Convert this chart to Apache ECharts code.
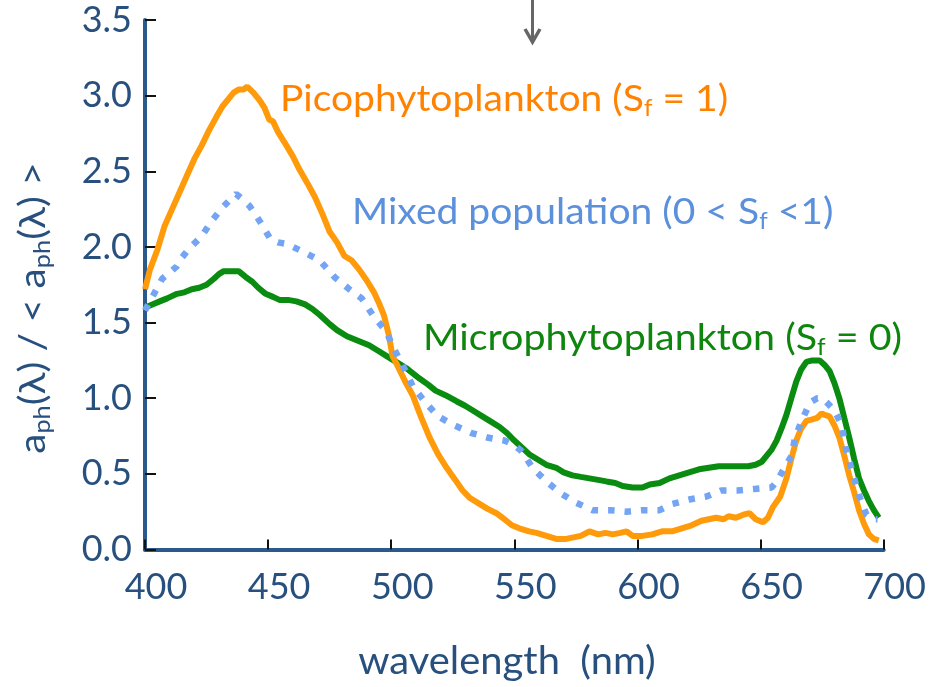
<!DOCTYPE html>
<html><head><meta charset="utf-8">
<script src="https://cdn.jsdelivr.net/npm/echarts@6/dist/echarts.min.js"></script>
<style>html,body{margin:0;padding:0;background:#fff}#c{width:929px;height:687px}</style>
</head><body><div id="c"></div>
<script>
// ---- data ----
const xTicks = [400, 450, 500, 550, 600, 650, 700];
const yTicks = [0.0, 0.5, 1.0, 1.5, 2.0, 2.5, 3.0, 3.5];

const picoWl = [400,402,405,408,411,414,417,420,423,426,429,431.5,434,436,438,440,441.5,444,446.5,448.5,450.5,452,454,456.7,460,462.8,466,469,472,475,478,481,484,487,490,493,495,497,499,500.5,503,506,508.7,512,515.6,519,522.5,526,529,532,536,539,542.7,546,549,552,556,559,563,567,571,574,577,580.5,584,587,590,593,595.6,598,602,606,610,614,618,622,626,629,632,635,637,640,643,645.5,648,651,653,655,658,660.5,662.5,664.5,666.5,668.6,671,673,674.8,676,678,680,682,684,686,688,690,692,694,696,698];
const picoVal = [1.72,1.85,1.98,2.14,2.25,2.36,2.47,2.58,2.67,2.77,2.86,2.93,2.98,3.02,3.04,3.04,3.06,3.02,2.97,2.92,2.84,2.83,2.76,2.69,2.60,2.51,2.42,2.33,2.22,2.10,2.03,1.94,1.91,1.85,1.78,1.70,1.63,1.55,1.42,1.28,1.20,1.10,1.02,0.88,0.74,0.63,0.54,0.46,0.39,0.34,0.30,0.27,0.24,0.20,0.16,0.14,0.12,0.11,0.09,0.07,0.07,0.08,0.09,0.12,0.10,0.11,0.10,0.11,0.12,0.09,0.09,0.10,0.12,0.12,0.14,0.16,0.19,0.20,0.21,0.20,0.22,0.21,0.23,0.24,0.20,0.18,0.21,0.28,0.35,0.47,0.60,0.72,0.80,0.85,0.86,0.87,0.90,0.89,0.88,0.82,0.74,0.62,0.49,0.38,0.26,0.17,0.10,0.07,0.06];

const mixedWl = [400,403,407,410,412.8,415,418,420.5,423,427,432,435,437,440,442.5,445,447,451,454,457.5,464,471,477,483,488,492.5,498,501,504.6,508.7,513.5,519,525.7,532.6,539,546,550,553,557.4,563,569,575,581.8,588.7,595.6,602,609,614,621,628,634,640.6,647.5,654.5,657,659,662.6,664,666.7,670,673,675,677,680,683,684.5,686.5,688.4,690.4,693,695.5,697.5];
const mixedVal = [1.58,1.67,1.79,1.83,1.87,1.93,1.99,2.03,2.07,2.17,2.27,2.32,2.35,2.31,2.27,2.21,2.16,2.05,2.03,2.02,1.97,1.91,1.80,1.72,1.66,1.55,1.44,1.33,1.22,1.08,0.98,0.88,0.82,0.77,0.74,0.72,0.69,0.65,0.54,0.45,0.37,0.31,0.26,0.26,0.25,0.26,0.26,0.30,0.33,0.35,0.39,0.39,0.40,0.41,0.46,0.52,0.62,0.74,0.85,0.97,1.00,1.00,0.97,0.92,0.82,0.68,0.56,0.45,0.34,0.23,0.20,0.20];

const microWl = [400,403,406,409,413,416,419,422,425,428,430,432,434,436,438,441,443.6,446,449,452,454.6,458,461.5,465,468,471,475,478,482,485,488,491,495,498,502,506,511.5,515,518,522,526.5,530,533,537,540,544,547,550,553.4,556,560,563,567,570,573.6,577,580.5,584,587.4,591,594,598,602,605,609,613,617,621,625,629,633,637,641.5,645,648,650.5,652.5,654.5,656.5,658.5,660.5,662.5,664.5,666.5,668.6,671,674,676,678,680,682,684,686,688,690,692,694,696,698];
const microVal = [1.60,1.62,1.64,1.66,1.69,1.70,1.72,1.73,1.75,1.79,1.82,1.84,1.84,1.84,1.84,1.80,1.77,1.73,1.69,1.67,1.65,1.65,1.64,1.62,1.59,1.55,1.49,1.45,1.41,1.39,1.37,1.35,1.31,1.28,1.24,1.20,1.13,1.09,1.05,1.02,0.98,0.95,0.92,0.88,0.85,0.81,0.77,0.72,0.67,0.63,0.59,0.56,0.54,0.51,0.49,0.48,0.47,0.46,0.45,0.44,0.42,0.41,0.41,0.43,0.44,0.47,0.49,0.51,0.53,0.54,0.55,0.55,0.55,0.55,0.56,0.58,0.62,0.66,0.72,0.80,0.89,1.00,1.11,1.19,1.24,1.25,1.25,1.22,1.18,1.10,1.00,0.87,0.74,0.60,0.47,0.39,0.32,0.26,0.21];

const seriesNames = ['Microphytoplankton', 'Picophytoplankton', 'Mixed population'];

// ---- chart ----
const zip = (a, b) => a.map((v, i) => [v, b[i]]);
const FONT = 'Lato';
const AX = '#27507f';
const chart = echarts.init(document.getElementById('c'), null, {renderer: 'canvas'});

function label(txt, sub, rest, color, size) {
  return {
    text: '{m|' + txt + '}{s|' + sub + '}{m|' + rest + '}',
    rich: {
      m: {fontFamily: FONT, fontSize: size, lineHeight: 42, verticalAlign: 'middle', fill: color, color: color},
      s: {fontFamily: FONT, fontSize: Math.round(size * 0.62), lineHeight: 18, verticalAlign: 'bottom', fill: color, color: color}
    },
    align: 'left', verticalAlign: 'middle'
  };
}

chart.setOption({
  animation: false,
  backgroundColor: '#fff',
  grid: {left: 145, right: 45, top: 20, bottom: 137.5, containLabel: false},
  xAxis: {
    type: 'value', min: xTicks[0], max: xTicks[xTicks.length - 1], interval: 50,
    axisLine: {show: true, lineStyle: {color: '#2a5a8c', width: 4}},
    axisTick: {show: true, inside: true, length: 10, lineStyle: {color: '#111', width: 2}},
    axisLabel: {color: AX, fontFamily: FONT, fontSize: 36, margin: 20, padding: [0, 0, 0, 22]},
    splitLine: {show: false}
  },
  yAxis: {
    type: 'value', min: yTicks[0], max: yTicks[yTicks.length - 1], interval: 0.5,
    axisLine: {show: true, lineStyle: {color: '#2a5a8c', width: 4}},
    axisTick: {show: true, inside: true, length: 11, lineStyle: {color: '#111', width: 2}},
    axisLabel: {color: AX, fontFamily: FONT, fontSize: 36, margin: 13, formatter: v => v.toFixed(1), padding: [6, 0, 0, 0]},
    splitLine: {show: false}
  },
  series: [
    {name: seriesNames[0], type: 'line', showSymbol: false, data: zip(microWl, microVal),
     lineStyle: {color: '#0a8c10', width: 6}, z: 2},
    {name: seriesNames[1], type: 'line', showSymbol: false, data: zip(picoWl, picoVal),
     lineStyle: {color: '#ff9a0a', width: 6}, z: 3},
    {name: seriesNames[2], type: 'line', showSymbol: false, data: zip(mixedWl, mixedVal),
     lineStyle: {color: '#74a4f4', width: 6.5, type: [6.5, 10], cap: 'butt'}, z: 4}
  ],
  graphic: [
    {type: 'line', shape: {x1: 532.5, y1: 0, x2: 532.5, y2: 40}, style: {stroke: '#666', lineWidth: 3}},
    {type: 'polyline', shape: {points: [[525, 29], [532.5, 42], [540, 29]]}, style: {stroke: '#666', lineWidth: 3.5, fill: null}},
    {type: 'text', x: 280, y: 99, scaleX: 1.055, style: label('Picophytoplankton (S', 'f', ' = 1)', '#ff8200', 37)},
    {type: 'text', x: 352, y: 212, scaleX: 1.055, style: label('Mixed population (0 < S', 'f', ' <1)', '#5a90dc', 37)},
    {type: 'text', x: 423, y: 338, scaleX: 1.065, style: label('Microphytoplankton (S', 'f', ' = 0)', '#0e860e', 37)},
    {type: 'text', x: 507, y: 662, scaleX: 1.05, style: {text: 'wavelength  (nm)', fontFamily: FONT, fontSize: 38, fill: AX, align: 'center', verticalAlign: 'middle'}},
    {type: 'text', x: 33, y: 308, rotation: Math.PI / 2, scaleX: 1.1, style: {
      text: '{m|a}{s|ph}{m|(λ) / < a}{s|ph}{m|(λ) >}',
      rich: {
        m: {fontFamily: FONT, fontSize: 37, lineHeight: 42, verticalAlign: 'middle', fill: AX, color: AX},
        s: {fontFamily: FONT, fontSize: 23, lineHeight: 18, verticalAlign: 'bottom', fill: AX, color: AX}
      },
      align: 'center', verticalAlign: 'middle'}}
  ]
});
</script></body></html>
